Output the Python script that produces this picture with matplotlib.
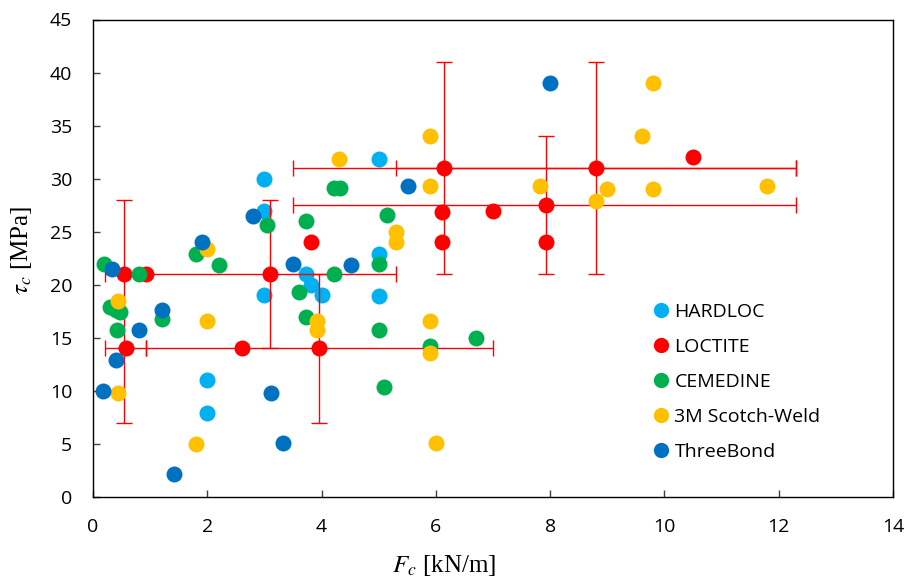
import numpy as np
from matplotlib import pyplot as plt
from matplotlib.lines import Line2D

plt.rcParams['font.family'] = ['Open Sans', 'DejaVu Sans']
plt.rcParams['mathtext.fontset'] = 'stix'

# data: F_c [kN/m], tau_c [MPa]
hardloc_x = [3.0, 3.0, 3.0, 3.72, 3.82, 4.0, 5.0, 5.0, 5.0, 2.0, 2.0]
hardloc_y = [30.0, 27.0, 19.0, 21.0, 20.0, 19.0, 31.9, 22.9, 18.9, 11.0, 7.9]

loctite_x = [0.55, 0.93, 3.1, 0.57, 2.6, 3.96, 3.82, 6.15, 6.1, 7.0, 6.1,
             7.92, 7.92, 8.81, 10.5]
loctite_y = [21.0, 21.0, 21.0, 14.0, 14.0, 14.0, 24.0, 31.0, 26.9, 27.0, 24.0,
             27.5, 24.0, 31.0, 32.0]

cemedine_x = [0.2, 0.3, 0.4, 0.48, 0.42, 0.8, 1.2, 1.8, 2.2, 3.05, 3.72,
              3.6, 3.72, 4.22, 4.32, 4.22, 5.0, 5.15, 5.0, 5.9, 6.7, 5.1]
cemedine_y = [22.0, 17.9, 17.6, 17.4, 15.7, 21.0, 16.8, 22.9, 21.9, 25.6, 26.0,
              19.3, 17.0, 29.1, 29.1, 21.0, 22.0, 26.6, 15.7, 14.2, 15.0, 10.4]

scotch_x = [0.43, 0.43, 2.0, 2.0, 1.8, 3.92, 3.92, 4.3, 5.9, 5.9, 5.3, 5.3,
            5.9, 5.9, 6.0, 7.82, 8.8, 9.0, 9.6, 9.8, 9.8, 11.8]
scotch_y = [18.5, 9.8, 23.4, 16.6, 5.0, 16.6, 15.7, 31.9, 34.0, 29.3, 25.0, 24.0,
            16.6, 13.6, 5.1, 29.3, 27.9, 29.0, 34.0, 39.0, 29.0, 29.3]

threebond_x = [0.34, 0.4, 0.18, 0.8, 1.2, 1.9, 2.8, 3.5, 4.52, 5.52, 3.12,
               3.32, 1.42, 8.0]
threebond_y = [21.5, 12.9, 10.0, 15.7, 17.6, 24.0, 26.5, 22.0, 21.9, 29.3, 9.8,
               5.1, 2.2, 39.0]

# LOCTITE points carrying range bars (lower / upper bounds)
err_x = [0.55, 0.57, 3.1, 3.96, 6.15, 7.92, 8.81]
err_y = [21.0, 14.0, 21.0, 14.0, 31.0, 27.5, 31.0]
err_xlo = [0.55, 0.21, 0.21, 0.92, 3.5, 3.5, 5.31]
err_xhi = [0.55, 0.92, 5.31, 7.0, 12.3, 12.3, 12.3]
err_ylo = [7.0, 14.0, 14.0, 7.0, 21.0, 21.0, 21.0]
err_yhi = [28.0, 14.0, 28.0, 21.0, 41.0, 34.0, 41.0]

names = ['HARDLOC', 'LOCTITE', 'CEMEDINE', '3M Scotch-Weld', 'ThreeBond']
colors = ['#00B0F0', '#FF0000', '#00B050', '#FFC000', '#0070C0']
xs = [hardloc_x, loctite_x, cemedine_x, scotch_x, threebond_x]
ys = [hardloc_y, loctite_y, cemedine_y, scotch_y, threebond_y]

fig = plt.figure(figsize=(9.08, 5.84), dpi=100)
ax = fig.add_axes([93/908, 87/584, 800/908, 477.5/584])

ex = np.array(err_x)
ey = np.array(err_y)
ax.errorbar(ex, ey,
            xerr=[ex - np.array(err_xlo), np.array(err_xhi) - ex],
            yerr=[ey - np.array(err_ylo), np.array(err_yhi) - ey],
            fmt='none', ecolor='#FF0000', elinewidth=1.0, capsize=5.5,
            capthick=1.0, zorder=2.5)

for k in range(5):
    ax.plot(xs[k], ys[k], 'o', ms=11.5, mfc=colors[k], mec='none',
            ls='none', zorder=2 + k if k != 1 else 3)

ax.set_xlim(0, 14)
ax.set_ylim(0, 45)
ax.set_xticks(np.arange(0, 15, 2))
ax.set_yticks(np.arange(0, 46, 5))
ax.tick_params(axis='both', direction='in', length=5, width=1,
               color='#404040', labelsize=14, labelcolor='black')
ax.tick_params(axis='x', pad=15)
ax.tick_params(axis='y', pad=15)
for s in ax.spines.values():
    s.set_color('black')
    s.set_linewidth(1.0)

fig.text(444/908, 1 - 572/584, r'$F_c$ [kN/m]', ha='center', va='baseline',
         fontsize=18, family='Liberation Serif')
fig.text(22/908, 1 - 250/584, r'$\tau_c$ [MPa]', ha='center', va='center',
         rotation=90, fontsize=18, family='Liberation Serif')

handles = [Line2D([], [], marker='o', ls='none', ms=11, mfc=c, mec='none')
           for c in colors]
ax.legend(handles, names, loc='center left', bbox_to_anchor=(0.70, 0.2415),
          frameon=False, fontsize=14, handlelength=0.8, handletextpad=0.3,
          labelspacing=0.87, borderpad=0, borderaxespad=0)

plt.savefig('out.png', dpi=100)
